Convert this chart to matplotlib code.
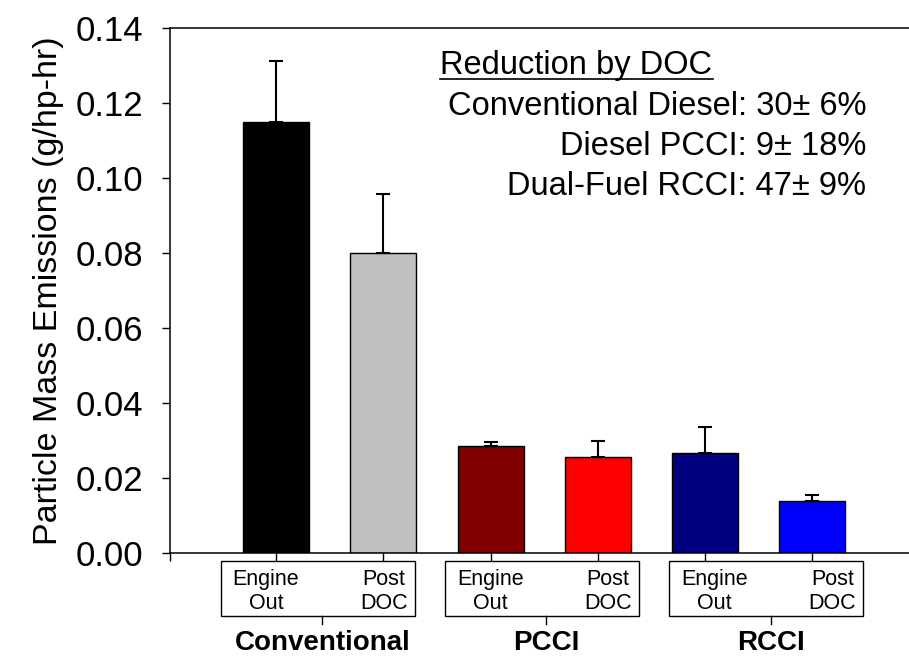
import numpy as np
from matplotlib import pyplot as plt
from matplotlib.patches import Rectangle
from matplotlib.transforms import blended_transform_factory

plt.rcParams['font.family'] = ['Liberation Sans', 'DejaVu Sans']

# particle mass, g/hp-hr
bar_names = ['Engine Out', 'Post DOC'] * 3
groups = ['Conventional', 'PCCI', 'RCCI']
pm_values = [0.115, 0.080, 0.0285, 0.0256, 0.0267, 0.0139]
pm_errors = [0.0162, 0.0157, 0.0011, 0.0043, 0.0069, 0.0016]
bar_colors = ['#000000', '#c0c0c0', '#800000', '#ff0000', '#000080', '#0000ff']
reduction_lines = ['Conventional Diesel: 30\u00b1 6%',
                   'Diesel PCCI: 9\u00b1 18%',
                   'Dual-Fuel RCCI: 47\u00b1 9%']

W, H = 909, 657
fig = plt.figure(figsize=(W / 100, H / 100), dpi=100)
ax_left, ax_bottom, ax_top = 170, 553, 28
ax = fig.add_axes([ax_left / W, 1 - ax_bottom / H, 1 - ax_left / W, (ax_bottom - ax_top) / H])

def ypix(p):
    # pixel row below the x axis -> axes fraction
    return (ax_bottom - p) / (ax_bottom - ax_top)

x = np.arange(len(pm_values))
ax.bar(x, pm_values, width=0.615, color=bar_colors, edgecolor='black', linewidth=1.0, zorder=2)
ax.errorbar(x, pm_values, yerr=[np.zeros(len(pm_errors)), pm_errors], fmt='none',
            ecolor='black', elinewidth=1.5, capsize=5, capthick=1.5, zorder=3)

ax.set_xlim(-0.99, 5.9)
ax.set_ylim(0, 0.14)
ax.set_yticks(np.arange(0, 0.141, 0.02))
ax.set_yticklabels(['%.2f' % v for v in np.arange(0, 0.141, 0.02)], fontsize=25)
ax.set_xticks(list(x) + [-0.99])
ax.set_xticklabels([])
ax.tick_params(axis='y', direction='out', length=5.5, width=1.0, pad=14)
ax.tick_params(axis='x', direction='out', length=6, width=1.0)
ax.spines['right'].set_visible(False)
for s in ['left', 'bottom', 'top']:
    ax.spines[s].set_linewidth(1.1)
ax.set_ylabel('Particle Mass Emissions (g/hp-hr)', fontsize=24.5, labelpad=8)

# grouped category labels under the axis
trans = blended_transform_factory(ax.transData, ax.transAxes)
box_w = 1.81
box_shift = [-0.11, -0.02, 0.07]
for k, g in enumerate(groups):
    gc = 2 * k + 0.5 + box_shift[k]
    bl = gc - box_w / 2
    ax.add_patch(Rectangle((bl, ypix(616)), box_w, ypix(561) - ypix(616), transform=trans,
                           fill=False, edgecolor='black', linewidth=1.0, clip_on=False))
    ex, px = bl + 0.42, bl + box_w - 0.29
    ax.text(ex, ypix(585), 'Engine', transform=trans, ha='center', va='baseline', fontsize=15.5)
    ax.text(ex, ypix(609), 'Out', transform=trans, ha='center', va='baseline', fontsize=15.5)
    ax.text(px, ypix(585), 'Post', transform=trans, ha='center', va='baseline', fontsize=15.5)
    ax.text(px, ypix(609), 'DOC', transform=trans, ha='center', va='baseline', fontsize=15.5)
    lx = gc + 0.04
    ax.plot([lx, lx], [ypix(616), ypix(624)], transform=trans, color='black',
            linewidth=1.0, clip_on=False)
    ax.text(lx, ypix(650), g, transform=trans, ha='center', va='baseline',
            fontsize=20, fontweight='bold')

# DOC reduction summary
fig.text(440 / W, 1 - 74 / H, 'Reduction by DOC', fontsize=23.5, ha='left', va='baseline')
fig.add_artist(plt.Line2D([440 / W, 713 / W], [1 - 79 / H, 1 - 79 / H], color='black', linewidth=1.2))
for i, line in enumerate(reduction_lines):
    fig.text(866 / W, 1 - (115 + 40 * i) / H, line, fontsize=23.5, ha='right', va='baseline')

fig.savefig('out.png', dpi=100)
